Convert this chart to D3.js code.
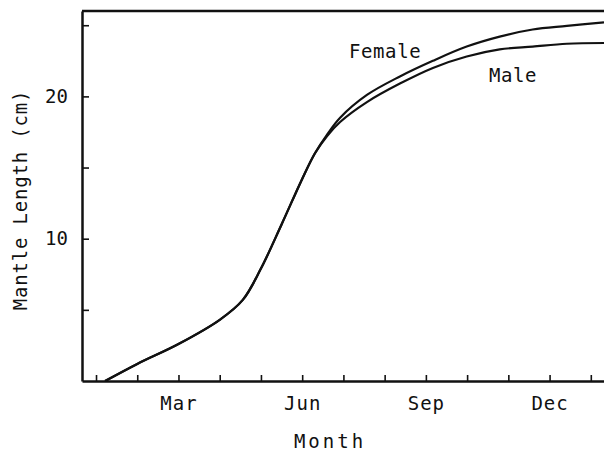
<!DOCTYPE html>
<html>
<head>
<meta charset="utf-8">
<script src="https://cdn.jsdelivr.net/npm/d3@7"></script>
<style>
  body { margin: 0; background: #fff; }
  svg text { font-family: "DejaVu Sans Mono", monospace; fill: #111; }
</style>
</head>
<body>
<svg id="chart" width="604" height="452"></svg>
<script>
// month position (1 = Jan tick, 13 = next Jan) and mantle length (cm)
var monthPts  = [1.22, 2, 3, 4, 4.56, 5, 5.5, 6, 6.31, 6.6, 6.92, 7.57, 8.37, 9.17, 9.99, 10.79, 11.59, 12.42, 13.32];
var femaleCm  = [0, 1.2, 2.6, 4.3, 5.7, 7.9, 11.0, 14.2, 16.0, 17.3, 18.5, 20.1, 21.4, 22.5, 23.5, 24.2, 24.7, 24.95, 25.2];
var maleCm    = [0, 1.2, 2.6, 4.3, 5.7, 7.9, 11.0, 14.2, 16.0, 17.2, 18.2, 19.6, 20.9, 22.0, 22.8, 23.3, 23.5, 23.7, 23.75];
var monthTicks = [1, 2, 3, 4, 5, 6, 7, 8, 9, 10, 11, 12, 13];
var monthLabels = {3: 'Mar', 6: 'Jun', 9: 'Sep', 12: 'Dec'};
var yTicks = [5, 10, 15, 20, 25];
var yLabels = [10, 20];

(function() {
  var svg = d3.select('#chart');
  var m = {left: 82, right: 604, top: 11, bottom: 381};

  var x = d3.scaleLinear().domain([0.66, 13.32]).range([m.left, m.right]);
  var y = d3.scaleLinear().domain([0, 26]).range([m.bottom, m.top]);

  // frame top line
  svg.append('line')
    .attr('x1', m.left).attr('x2', m.right)
    .attr('y1', m.top).attr('y2', m.top)
    .attr('stroke', '#111').attr('stroke-width', 2.5);

  var xAxis = svg.append('g')
    .attr('transform', 'translate(0,' + m.bottom + ')')
    .call(d3.axisBottom(x).tickValues(monthTicks).tickSizeInner(-6).tickSizeOuter(0)
      .tickPadding(16)
      .tickFormat(function(d) { return monthLabels[d] || ''; }));

  var yAxis = svg.append('g')
    .attr('transform', 'translate(' + m.left + ',0)')
    .call(d3.axisLeft(y).tickValues(yTicks).tickSizeInner(-7).tickSizeOuter(0)
      .tickPadding(14)
      .tickFormat(function(d) { return yLabels.indexOf(d) >= 0 ? d : ''; }));

  [xAxis, yAxis].forEach(function(ax) {
    ax.select('.domain').attr('stroke', '#111').attr('stroke-width', 2.5);
    ax.selectAll('.tick line').attr('stroke', '#111').attr('stroke-width', 1.6);
    ax.selectAll('.tick text')
      .attr('font-family', '"DejaVu Sans Mono", monospace')
      .attr('font-size', 19).attr('fill', '#111');
  });
  xAxis.selectAll('.tick text').attr('letter-spacing', 1);

  var line = d3.line()
    .x(function(d, i) { return x(monthPts[i]); })
    .y(function(d) { return y(d); })
    .curve(d3.curveCatmullRom.alpha(0.5));

  [femaleCm, maleCm].forEach(function(s) {
    svg.append('path')
      .datum(s)
      .attr('d', line)
      .attr('fill', 'none')
      .attr('stroke', '#111')
      .attr('stroke-width', 2.2);
  });

  svg.append('text').attr('x', 349).attr('y', 58)
    .attr('font-size', 19).attr('letter-spacing', 0.6).text('Female');
  svg.append('text').attr('x', 489).attr('y', 82)
    .attr('font-size', 19).attr('letter-spacing', 0.6).text('Male');

  svg.append('text')
    .attr('x', 330).attr('y', 448)
    .attr('text-anchor', 'middle')
    .attr('font-size', 19).attr('letter-spacing', 3)
    .text('Month');

  svg.append('text')
    .attr('transform', 'translate(27,200) rotate(-90)')
    .attr('text-anchor', 'middle')
    .attr('font-size', 19).attr('letter-spacing', 0.8)
    .text('Mantle Length (cm)');
})();
</script>
</body>
</html>
